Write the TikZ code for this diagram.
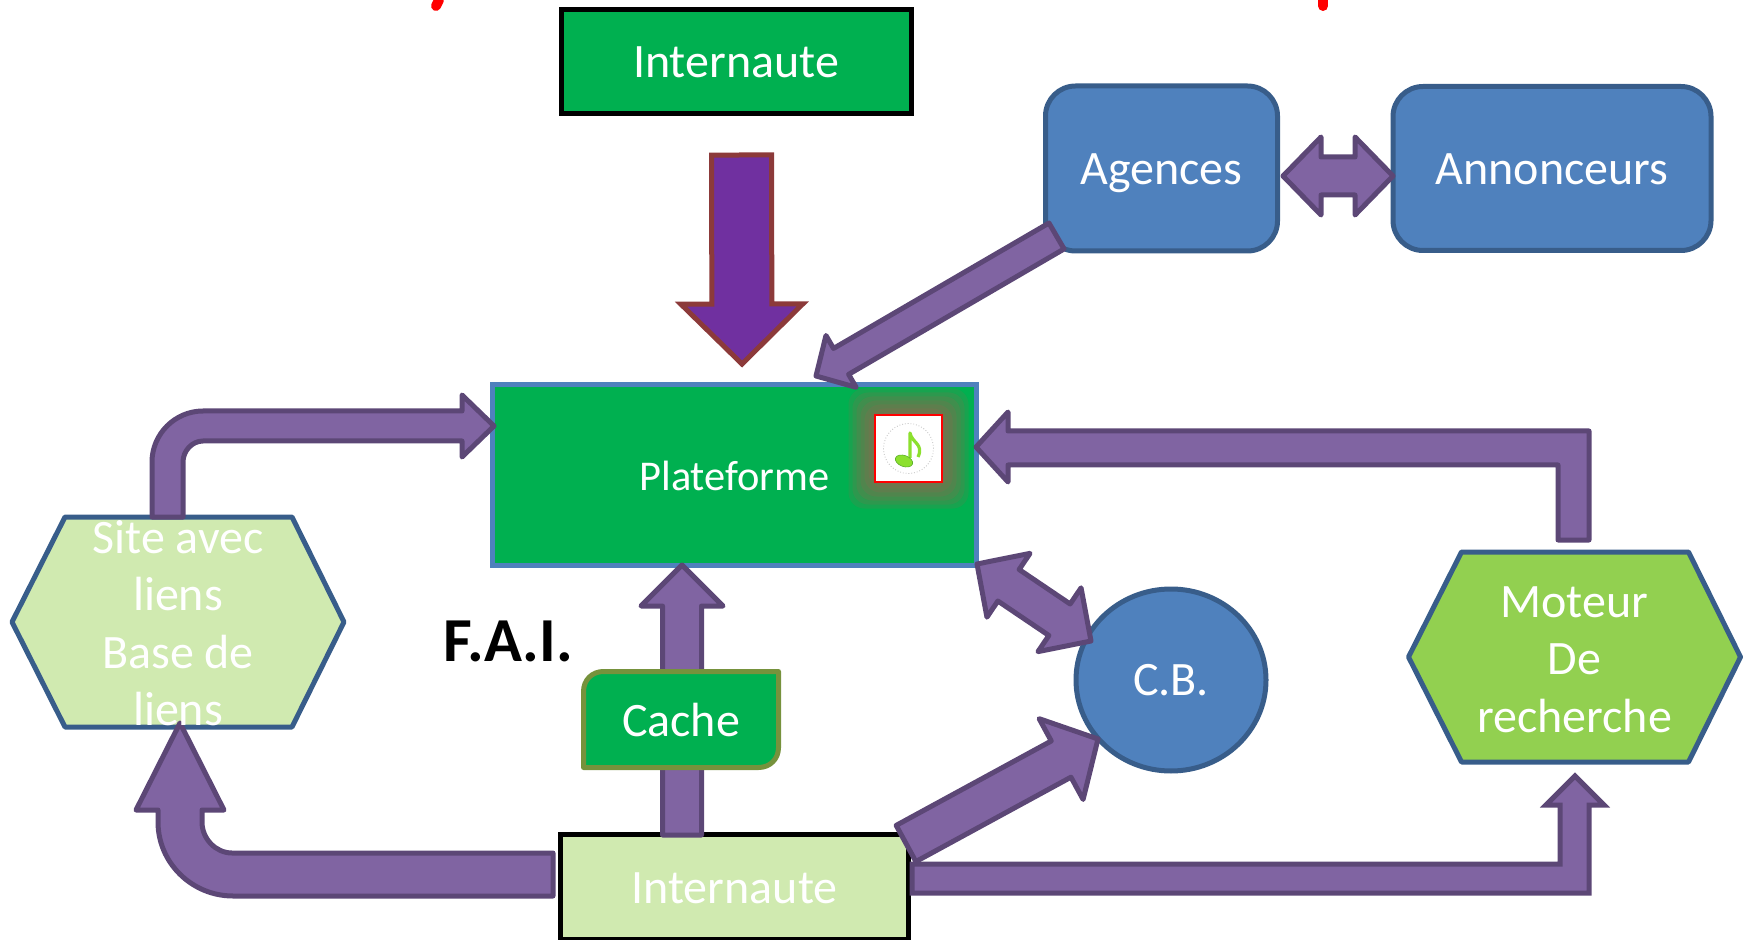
\documentclass[tikz,border=0pt]{standalone}
\usepackage{fontspec}
\setmainfont{Carlito}
\usetikzlibrary{calc,shapes.geometric}
\definecolor{boxgreen}{HTML}{00B050}
\definecolor{palegreen}{HTML}{D0EAB0}
\definecolor{brightgreen}{HTML}{92D050}
\definecolor{boxblue}{HTML}{4F81BD}
\definecolor{edgeblue}{HTML}{385D8A}
\definecolor{cacheedge}{HTML}{76923C}
\definecolor{arrowfill}{HTML}{8064A2}
\definecolor{arrowedge}{HTML}{5C4776}
\definecolor{bigfill}{HTML}{7030A0}
\definecolor{bigedge}{HTML}{8C3A3A}
\definecolor{glowcolor}{HTML}{C0504D}
\definecolor{notefill}{HTML}{8CE02E}
\definecolor{noteedge}{HTML}{5DB02A}
\tikzset{
    box/.style={rectangle,line width=2.5pt,text=white,align=center,inner sep=0pt,text height=19pt,text depth=2.5pt},
    black box/.style={box,draw=black,fill=#1},
    blue box/.style={box,draw=edgeblue,fill=boxblue,rounded corners=15pt},
    hexa edge/.style={draw=edgeblue,fill=#1,line width=2.5pt,line join=round},
    white text/.style={text=white,align=center,inner sep=0pt},
    block arrow/.style={draw=arrowedge,fill=arrowfill,line width=2.5pt,line join=round},
    big arrow/.style={draw=bigedge,fill=bigfill,line width=2.5pt},
}
\tikzstyle{every node}=[font=\fontsize{24}{28.7}\selectfont]
\newcommand{\blockarr}[6][block arrow]{
    \coordinate (arrow base) at ($(#3)!#6!(#2)$);
    \draw[#1] ($(#2)!#4!90:(#3)$) -- ($(arrow base)!#4!90:(#3)$) -- ($(arrow base)!#5!90:(#3)$)
        -- (#3) -- ($(arrow base)!#5!-90:(#3)$) -- ($(arrow base)!#4!-90:(#3)$) -- ($(#2)!#4!-90:(#3)$) -- cycle;
}
\newcommand{\blockdbl}[5]{
    \coordinate (arrow base a) at ($(#1)!#5!(#2)$);
    \coordinate (arrow base b) at ($(#2)!#5!(#1)$);
    \draw[block arrow] (#1) -- ($(arrow base a)!#4!90:(#2)$) -- ($(arrow base a)!#3!90:(#2)$)
        -- ($(arrow base b)!#3!-90:(#1)$) -- ($(arrow base b)!#4!-90:(#1)$) -- (#2)
        -- ($(arrow base b)!#4!90:(#1)$) -- ($(arrow base b)!#3!90:(#1)$)
        -- ($(arrow base a)!#3!-90:(#2)$) -- ($(arrow base a)!#4!-90:(#2)$) -- cycle;
}
\newcommand{\hexagonat}[2]{
    \draw[hexa edge=#2,shift={(#1)}] (-166,0) -- (-113,-105) -- (114,-105) -- (166,0) -- (114,105) -- (-113,105) -- cycle;
}

\begin{document}
\begin{tikzpicture}[x=.5pt,y=-.5pt]
    \useasboundingbox (0,0) rectangle (1749,940);

    % what is left of the title
    \draw[red,line width=5pt,line cap=round] (439,0) -- (436,6);
    \draw[red,line width=5pt,line cap=round] (1323,0) -- (1323,6);

    \node[black box=boxgreen,minimum width=175pt,minimum height=52pt] (Internaute top) at (736,61.5) {Internaute};
    \node[blue box,minimum width=116pt,minimum height=82.5pt] (Agences) at (1161.5,168.5) {Agences};
    \node[blue box,minimum width=159pt,minimum height=82pt] (Annonceurs) at (1552,168.5) {Annonceurs};
    \node[box,draw=boxblue,fill=boxgreen,minimum width=242pt,minimum height=90.5pt,
        font=\fontsize{21.2}{25}\selectfont,text depth=3.5pt] (Plateforme) at (734.5,475) {Plateforme};

    \foreach \grow in {32,36,...,60}
        \fill[glowcolor,opacity=.13,rounded corners=8pt] ($(908.5,448.5)+(-\grow,-\grow)$) rectangle ($(908.5,448.5)+(\grow,\grow)$);
    \node[rectangle,draw=red,fill=white,line width=1.2pt,inner sep=0pt,minimum size=33.5pt] (Music) at (908.5,448.5) {};
    \node[circle,draw=gray!50,densely dotted,line width=.4pt,inner sep=0pt,minimum size=25pt] (Music disc) at (Music) {};
    \draw[notefill,line width=1.6pt,line join=round] (910,458) -- (910,433) .. controls (912,443) and (924,444) .. (918,457);
    \fill[notefill,draw=noteedge,line width=.3pt,rotate around={-20:(904,461)}] (904,461) ellipse (9 and 5.5);

    \hexagonat{178,622}{palegreen}
    \hexagonat{1574.5,657}{brightgreen}
    \node[white text] (Moteur) at (1574.5,659.5) {Moteur\\De\\recherche};
    \node[box,draw=edgeblue,fill=boxblue,ellipse,minimum width=95pt,minimum height=91pt,
        text height=15pt,text depth=0pt] (CB) at (1171,680) {C.B.};
    \node[black box=palegreen,minimum width=174pt,minimum height=52.5pt] (Internaute bottom) at (734.5,887) {Internaute};
    \node[font=\fontsize{31.3}{36}\selectfont\bfseries,inner sep=0pt] (FAI) at (508,641) {F.A.I.};

    \coordinate (big tail) at (741.5,155);
    \coordinate (big tip) at (742,364);
    \blockarr[big arrow]{big tail}{big tip}{15pt}{30.5pt}{30pt}

    \coordinate (agences out) at (1056.5,236);
    \coordinate (plateforme top) at (816,376);
    \blockarr{agences out}{plateforme top}{7.5pt}{15pt}{14.5pt}

    \coordinate (agences east) at (1283,176);
    \coordinate (annonceurs west) at (1393,176);
    \blockdbl{agences east}{annonceurs west}{9.5pt}{19.5pt}{19pt}

    \coordinate (plateforme corner) at (977,564);
    \coordinate (cb in) at (1091,641);
    \blockdbl{plateforme corner}{cb in}{9.5pt}{19.25pt}{19pt}

    \coordinate (internaute up) at (682,835);
    \coordinate (plateforme bottom) at (682,565);
    \blockarr{internaute up}{plateforme bottom}{9.75pt}{20.5pt}{20.5pt}

    \draw[draw=cacheedge,fill=boxgreen,line width=2.5pt,line join=round] (583.5,767.5) -- (583.5,691.5)
        .. controls (583.5,680) and (592,671.5) .. (603.5,671.5) -- (778.5,671.5) -- (778.5,747.5)
        .. controls (778.5,759) and (770,767.5) .. (758.5,767.5) -- cycle;
    \node[white text] (Cache) at (681,720) {Cache};

    \coordinate (site out) at (167.5,517);
    \coordinate (plateforme west) at (494,426);
    \draw[block arrow] (site out) ++(-15.5,0) -- ++(0,-55) .. controls +(0,-28) and +(-28,0) .. ++(51,-51)
        -- ++(259,0) -- ++(0,-16) -- (plateforme west) -- ++(-32,31) -- ++(0,-16) -- ++(-259,0)
        .. controls +(-11,0) and +(0,-11) .. ++(-20,21) -- ++(0,55) -- cycle;

    \coordinate (moteur out) at (1573.5,540);
    \coordinate (plateforme east) at (976,447);
    \draw[block arrow] (moteur out) ++(15.5,0) -- ++(0,-109) -- ++(-581,0) -- ++(0,-19) -- (plateforme east)
        -- ++(32,35) -- ++(0,-17) -- ++(550,0) -- ++(0,75) -- cycle;

    \coordinate (internaute west) at (553,874.5);
    \coordinate (site in) at (180,723);
    \draw[block arrow] (internaute west) ++(0,-21.5) -- ++(-321,0) .. controls +(-16,0) and +(0,17) .. ++(-30,-31)
        -- ++(0,-12) -- ++(22,0) -- (site in) -- ++(-44,87) -- ++(22,0) -- ++(0,12)
        .. controls +(0,41) and +(-41,0) .. ++(75,74) -- ++(320,0) -- cycle;

    \coordinate (internaute corner) at (906,843.5);
    \coordinate (cb bottom) at (1098,739);
    \blockarr{internaute corner}{cb bottom}{10.3pt}{23pt}{21pt}

    \coordinate (internaute east) at (912,878.5);
    \coordinate (moteur in) at (1575,776);
    \draw[block arrow,line join=miter] (internaute east) ++(0,-14.5) -- ++(648,0) -- ++(0,-59) -- ++(-14,0)
        -- (moteur in) -- ++(29,29) -- ++(-15,0) -- ++(0,88) -- ++(-677,0) -- cycle;

    \node[white text] (Site) at (178,623) {Site avec\\liens\\Base de\\liens};
\end{tikzpicture}
\end{document}
